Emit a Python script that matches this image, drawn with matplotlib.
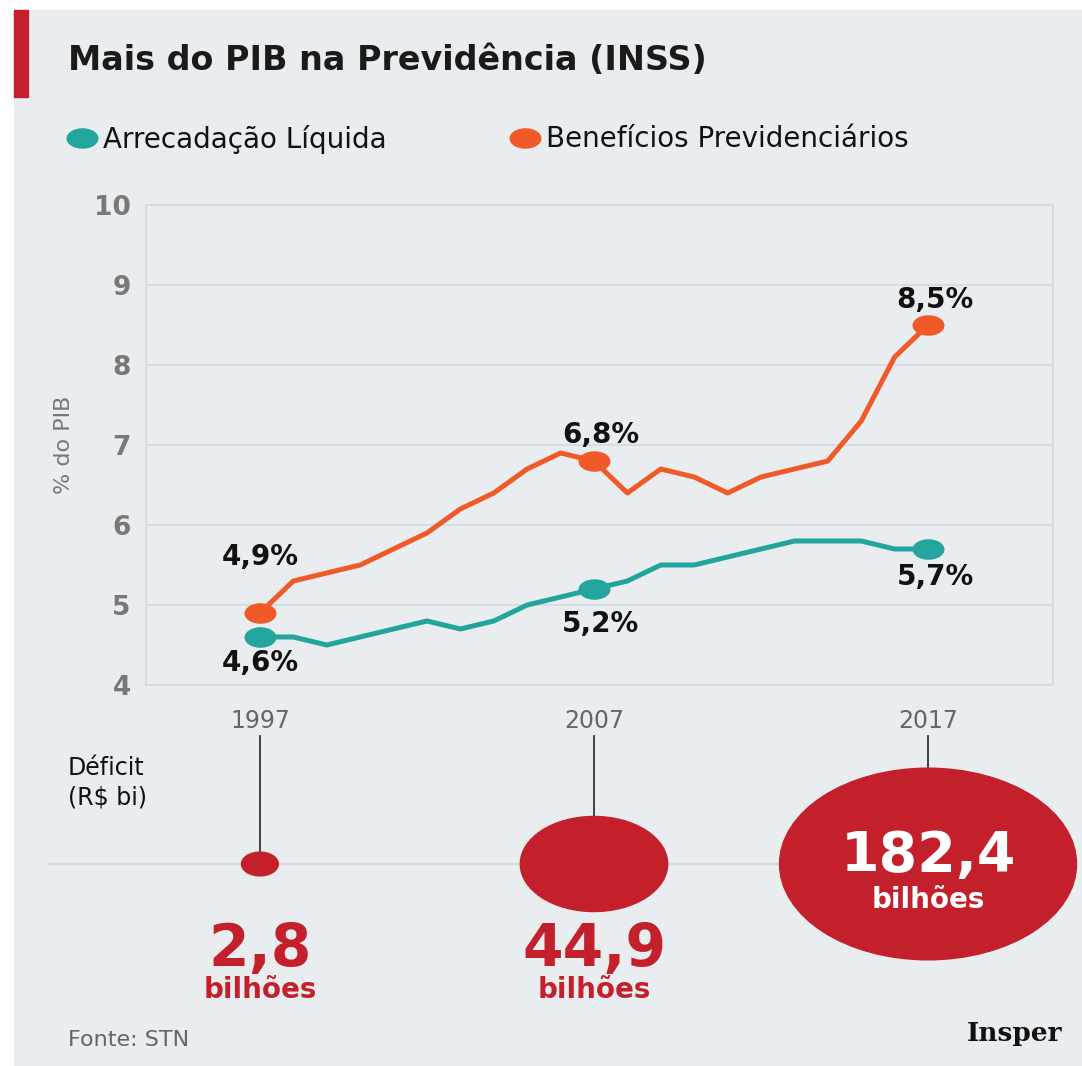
#!/usr/bin/env python3

import numpy as np
import matplotlib
matplotlib.use('Agg')
import matplotlib.pyplot as plt
from matplotlib.patches import Ellipse, Rectangle
from matplotlib.path import Path
from matplotlib.transforms import Affine2D

plt.rcParams['font.family'] = ['DejaVu Sans']

YEARS = list(range(1997, 2018))
ARRECADACAO = [4.6, 4.6, 4.5, 4.6, 4.7, 4.8, 4.7, 4.8, 5.0, 5.1, 5.2,
               5.3, 5.5, 5.5, 5.6, 5.7, 5.8, 5.8, 5.8, 5.7, 5.7]
BENEFICIOS = [4.9, 5.3, 5.4, 5.5, 5.7, 5.9, 6.2, 6.4, 6.7, 6.9, 6.8,
              6.4, 6.7, 6.6, 6.4, 6.6, 6.7, 6.8, 7.3, 8.1, 8.5]
HIGHLIGHT_YEARS = [1997, 2007, 2017]
DEFICIT_YEARS = [1997, 2007, 2017]
DEFICIT = [2.8, 44.9, 182.4]
DEFICIT_LABELS = ['2,8', '44,9', '182,4']

TEAL = '#22a59c'
ORANGE = '#f05a28'
RED = '#c4202b'
BG = '#e9edf0'
GRID = '#d6dde1'
GRAY = '#787878'

W, H = 1082, 1066
fig = plt.figure(figsize=(W / 100, H / 100), dpi=100)
fig.patch.set_facecolor('white')

# full-figure axes in pixel units for decorations
bg = fig.add_axes([0, 0, 1, 1])
bg.set_xlim(0, W)
bg.set_ylim(H, 0)
bg.axis('off')
bg.add_patch(Rectangle((14, 10), W - 14, H - 10, color=BG, zorder=0))
bg.add_patch(Rectangle((14, 10), 14, 87, color=RED, zorder=1))
bg.text(68, 60, 'Mais do PIB na Previdência (INSS)', fontsize=24,
        fontweight='bold', va='center', ha='left', color='#1a1a1a')

# ellipse-shaped marker (the original art is stretched horizontally)
ell = Path.unit_circle().transformed(Affine2D().scale(1.6, 1.0))

bg.plot([82], [138], marker=ell, ms=22, color=TEAL, ls='none')
bg.text(103, 139, 'Arrecadação Líquida', fontsize=20, va='center', color='#111111')
bg.plot([525], [138], marker=ell, ms=22, color=ORANGE, ls='none')
bg.text(546, 139, 'Benefícios Previdenciários', fontsize=20, va='center', color='#111111')

# main line chart
L, R, T, B = 146, 1053, 205, 685
XMIN, XMAX = 1993.59, 2020.74
ax = fig.add_axes([L / W, 1 - B / H, (R - L) / W, (B - T) / H])
ax.set_facecolor(BG)
marks = [YEARS.index(y) for y in HIGHLIGHT_YEARS]
ax.plot(YEARS, ARRECADACAO, color=TEAL, lw=3.6, marker=ell, ms=22, markevery=marks)
ax.plot(YEARS, BENEFICIOS, color=ORANGE, lw=3.6, marker=ell, ms=22, markevery=marks)
ax.set_xlim(XMIN, XMAX)
ax.set_ylim(4, 10)
ax.set_yticks(range(4, 11))
ax.set_xticks(HIGHLIGHT_YEARS)
ax.tick_params(axis='y', length=0, pad=11, labelsize=19, labelcolor=GRAY)
ax.tick_params(axis='x', length=0, pad=17, labelsize=17, labelcolor='#666666')
for lab in ax.get_yticklabels():
    lab.set_fontweight('bold')
ax.grid(axis='y', color=GRID, lw=1.5)
for sp in ax.spines.values():
    sp.set_color(GRID)
    sp.set_linewidth(1.5)
ax.set_ylabel('% do PIB', fontsize=16, color=GRAY, labelpad=14)

offsets = {
    ('b', 1997): (0, 40), ('a', 1997): (0, -19),
    ('b', 2007): (5, 19), ('a', 2007): (5, -25),
    ('b', 2017): (5, 18), ('a', 2017): (5, -20),
}
for key, series in (('a', ARRECADACAO), ('b', BENEFICIOS)):
    for y in HIGHLIGHT_YEARS:
        v = series[YEARS.index(y)]
        ax.annotate(f'{v:.1f}%'.replace('.', ','), (y, v), xytext=offsets[(key, y)],
                    textcoords='offset points', ha='center', va='center',
                    fontsize=20, fontweight='bold', color='#111111')

# deficit bubbles, sharing the x scale of the chart; y in pixels
TOP2 = 700
ax2 = fig.add_axes([L / W, 0, (R - L) / W, (H - TOP2) / H], sharex=ax)
ax2.set_ylim(H, TOP2)
ax2.axis('off')
px_per_year = (R - L) / (XMAX - XMIN)
cy = 864
bg.plot([48, 1050], [cy, cy], color='#d3dade', lw=1.6, zorder=1)
for y, v, lab in zip(DEFICIT_YEARS, DEFICIT, DEFICIT_LABELS):
    # bubble area proportional to the deficit
    wpx = 297 * np.sqrt(v / max(DEFICIT))
    hpx = wpx / 1.55
    ax2.add_patch(Ellipse((y, cy), wpx / px_per_year, hpx, color=RED,
                          zorder=3, clip_on=False))
    ax2.plot([y, y], [736, cy - hpx / 2], color='#333333', lw=1.3, zorder=2)
    if v == max(DEFICIT):
        ax2.text(y, cy - 8, lab, ha='center', va='center', fontsize=40,
                 fontweight='bold', color='white', zorder=4)
        ax2.text(y, cy + 36, 'bilhões', ha='center', va='center', fontsize=20,
                 fontweight='bold', color='white', zorder=4)
    else:
        ax2.text(y, 950, lab, ha='center', va='center', fontsize=42,
                 fontweight='bold', color=RED)
        ax2.text(y, 990, 'bilhões', ha='center', va='center', fontsize=20,
                 fontweight='bold', color=RED)

bg.text(68, 768, 'Déficit', fontsize=17, va='center', color='#111111')
bg.text(68, 797, '(R$ bi)', fontsize=17, va='center', color='#111111')
bg.text(68, 1040, 'Fonte: STN', fontsize=16, va='center', color='#666666')
bg.text(1062, 1034, 'Insper', fontsize=19, va='center', ha='right',
        fontweight='bold', family='DejaVu Serif', color='#111111')

fig.savefig('out.png', dpi=100, facecolor=fig.get_facecolor())
